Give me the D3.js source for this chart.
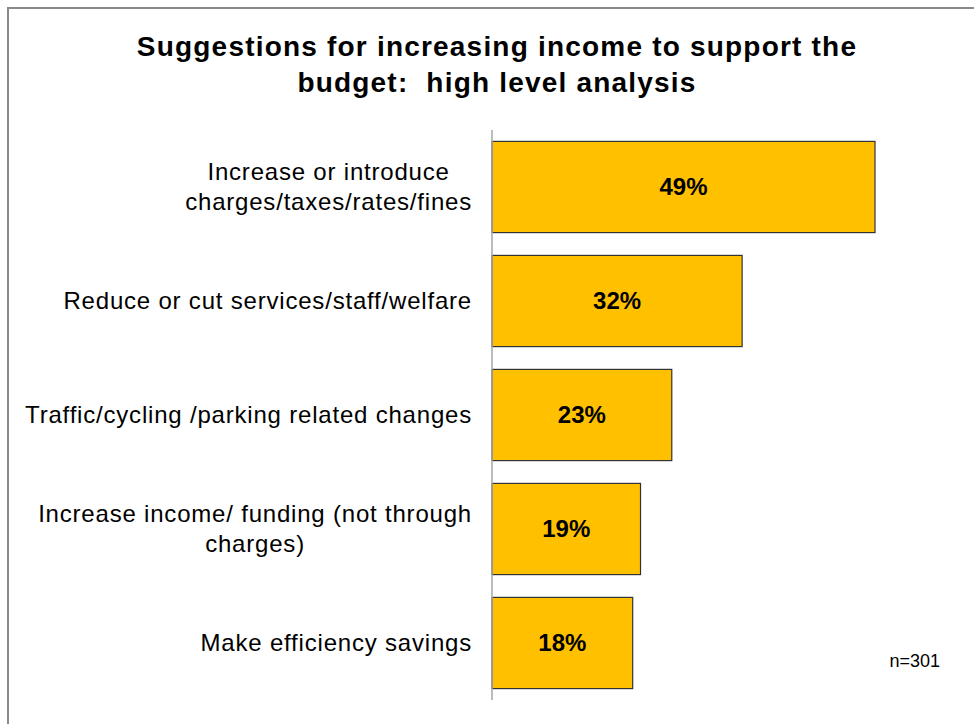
<!DOCTYPE html>
<html>
<head>
<meta charset="utf-8">
<script src="https://cdn.jsdelivr.net/npm/d3@7"></script>
<style>
  html, body { margin: 0; padding: 0; background: #fff; }
  svg { display: block; }
  text { font-family: "Liberation Sans", Arial, sans-serif; }
</style>
</head>
<body>
<svg id="chart" width="974" height="724"></svg>
<script>
const categories = [
  ["Increase or introduce", "charges/taxes/rates/fines"],
  ["Reduce or cut services/staff/welfare"],
  ["Traffic/cycling /parking related changes"],
  ["Increase income/ funding (not through", "charges)"],
  ["Make efficiency savings"]
];
const values = [49, 32, 23, 19, 18];
const titleLines = ["Suggestions for increasing income to support the", "budget:  high level analysis"];
const note = "n=301";

const svg = d3.select("#chart");

// outer chart border (right & bottom edges fall outside the view)
svg.append("rect")
  .attr("x", 8).attr("y", 8)
  .attr("width", 1000).attr("height", 1000)
  .attr("fill", "none").attr("stroke", "#8a8a8a").attr("stroke-width", 2);

// title
svg.append("g").selectAll("text").data(titleLines).join("text")
  .attr("x", 497).attr("y", (d, i) => 56 + i * 36)
  .attr("text-anchor", "middle")
  .attr("font-weight", "bold").attr("font-size", 28)
  .attr("letter-spacing", 1.2)
  .style("white-space", "pre")
  .attr("fill", "#000")
  .text(d => d);

const keys = categories.map((c, i) => i);
const x = d3.scaleLinear().domain([0, 60]).range([492, 961]);
const y = d3.scaleBand().domain(keys).range([130, 700]).paddingInner(0.2).paddingOuter(0.1);

// bars
svg.append("g").selectAll("rect").data(values).join("rect")
  .attr("x", x(0))
  .attr("y", (d, i) => y(i))
  .attr("width", d => x(d) - x(0))
  .attr("height", y.bandwidth())
  .attr("fill", "#FFC000")
  .attr("stroke", "#333")
  .attr("stroke-width", 1.2);

// value labels
svg.append("g").selectAll("text").data(values).join("text")
  .attr("x", d => (x(0) + x(d)) / 2)
  .attr("y", (d, i) => y(i) + y.bandwidth() / 2)
  .attr("dy", "0.35em")
  .attr("text-anchor", "middle")
  .attr("font-weight", "bold").attr("font-size", 24)
  .attr("fill", "#000")
  .text(d => d + "%");

// axis line
svg.append("line")
  .attr("x1", x(0)).attr("x2", x(0))
  .attr("y1", y.range()[0]).attr("y2", y.range()[1])
  .attr("stroke", "#a6a6a6").attr("stroke-width", 1.5);

// category labels: block right-aligned, lines centered within block
const rightEdge = 472;
const lineH = 30;
const lg = svg.append("g");
categories.forEach((lines, i) => {
  const g = lg.append("g");
  const cy = y(i) + y.bandwidth() / 2;
  const ts = g.selectAll("text").data(lines).join("text")
    .attr("y", (d, j) => cy + (j - (lines.length - 1) / 2) * lineH)
    .attr("dy", "0.35em")
    .attr("text-anchor", "middle")
    .attr("font-size", 24)
    .attr("letter-spacing", 0.8)
    .attr("fill", "#000")
    .text(d => d);
  let maxW = 0;
  ts.each(function () { maxW = Math.max(maxW, this.getComputedTextLength()); });
  ts.attr("x", rightEdge - maxW / 2);
});

// note
svg.append("text")
  .attr("x", 940).attr("y", 667)
  .attr("text-anchor", "end")
  .attr("font-size", 18)
  .attr("fill", "#000")
  .text(note);
</script>
</body>
</html>
